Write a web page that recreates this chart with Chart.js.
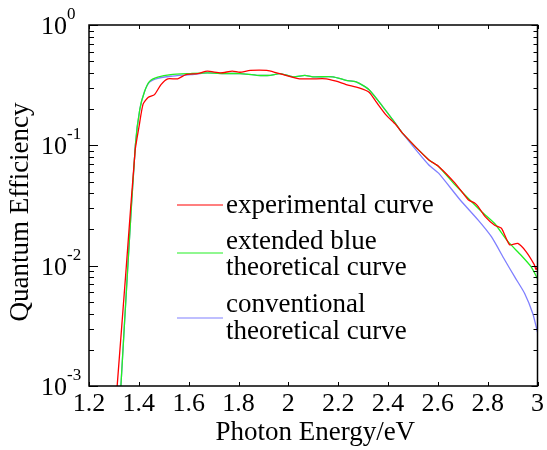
<!DOCTYPE html>
<html>
<head>
<meta charset="utf-8">
<script src="https://cdn.jsdelivr.net/npm/chart.js@4/dist/chart.umd.min.js"></script>
<style>
  html, body { margin: 0; padding: 0; background: #fff; }
  #wrap { width: 547px; height: 450px; }
</style>
</head>
<body>
<div id="wrap"><canvas id="qeChart"></canvas></div>
<script>
// Quantum efficiency vs photon energy (log y)

const redEnergy = [1.313, 1.35, 1.385, 1.40, 1.417, 1.437, 1.463, 1.489, 1.516, 1.556, 1.589, 1.636, 1.675, 1.728, 1.775, 1.806, 1.847, 1.914, 1.953, 1.993, 2.045, 2.099, 2.152, 2.192, 2.232, 2.284, 2.324, 2.351, 2.391, 2.431, 2.457, 2.563, 2.603, 2.669, 2.722, 2.749, 2.762, 2.789, 2.828, 2.855, 2.888, 2.921, 2.954, 2.987, 2.994, 3.0];
const redQE = [0.001, 0.01, 0.09, 0.14, 0.22, 0.25, 0.264, 0.32, 0.357, 0.357, 0.387, 0.395, 0.413, 0.40, 0.413, 0.405, 0.419, 0.419, 0.40, 0.38, 0.357, 0.357, 0.357, 0.341, 0.32, 0.30, 0.276, 0.232, 0.18, 0.149, 0.127, 0.076, 0.0668, 0.0485, 0.0353, 0.033, 0.031, 0.0257, 0.0217, 0.0205, 0.0149, 0.0153, 0.0131, 0.0102, 0.0093, 0.0098];

const greenEnergy = [1.328, 1.356, 1.386, 1.404, 1.423, 1.443, 1.476, 1.528, 1.608, 1.675, 1.742, 1.806, 1.874, 1.927, 1.967, 2.02, 2.066, 2.099, 2.179, 2.232, 2.272, 2.324, 2.378, 2.424, 2.457, 2.563, 2.603, 2.669, 2.775, 2.828, 2.881, 2.934, 2.974, 3.0];
const greenQE = [0.001, 0.01, 0.1, 0.2, 0.28, 0.34, 0.368, 0.387, 0.395, 0.40, 0.395, 0.395, 0.382, 0.382, 0.395, 0.371, 0.382, 0.371, 0.371, 0.347, 0.337, 0.29, 0.211, 0.158, 0.127, 0.076, 0.0668, 0.047, 0.0282, 0.0224, 0.0159, 0.0122, 0.0098, 0.0078];

const blueEnergy = [1.328, 1.356, 1.386, 1.404, 1.423, 1.443, 1.476, 1.529, 1.608, 1.675, 1.742, 1.806, 1.874, 1.927, 1.967, 2.02, 2.066, 2.099, 2.179, 2.232, 2.272, 2.324, 2.378, 2.424, 2.457, 2.563, 2.603, 2.689, 2.762, 2.815, 2.868, 2.908, 2.948, 2.981, 3.0];
const blueQE = [0.001, 0.01, 0.1, 0.2, 0.28, 0.335, 0.36, 0.375, 0.387, 0.40, 0.395, 0.395, 0.382, 0.382, 0.395, 0.371, 0.382, 0.371, 0.371, 0.347, 0.337, 0.29, 0.211, 0.158, 0.127, 0.069, 0.0587, 0.0353, 0.0239, 0.0174, 0.0112, 0.0081, 0.0059, 0.0040, 0.0028];

const xTicks = [1.2, 1.4, 1.6, 1.8, 2, 2.2, 2.4, 2.6, 2.8, 3];
const yDecades = [0.001, 0.01, 0.1, 1];
const yDecadeLabels = ['-3', '-2', '-1', '0'];

const legendLabels = [
    ['experimental curve'],
    ['extended blue', 'theoretical curve'],
    ['conventional', 'theoretical curve']
];
const seriesColors = ['#ff0000', '#22f022', 'rgba(120,120,255,0.95)'];

const SERIF = '"Liberation Serif", "Times New Roman", serif';

function toPoints(xs, ys) {
    return xs.map((x, i) => ({ x: x, y: ys[i] }));
}

const framePlugin = {
    id: 'frame',
    afterDraw(chart) {
        const ctx = chart.ctx;
        const xs = chart.scales.x;
        const ys = chart.scales.y;
        const a = chart.chartArea;
        ctx.save();

        // box
        ctx.strokeStyle = '#000';
        ctx.lineWidth = 1.5;
        ctx.strokeRect(a.left, a.top, a.right - a.left, a.bottom - a.top);

        // x ticks, inward, top and bottom
        ctx.lineWidth = 1;
        ctx.beginPath();
        xTicks.forEach(v => {
            const px = Math.round(xs.getPixelForValue(v)) + 0.5;
            ctx.moveTo(px, a.bottom); ctx.lineTo(px, a.bottom - 4);
            ctx.moveTo(px, a.top); ctx.lineTo(px, a.top + 4);
        });
        // y ticks, major + minor, left and right
        for (let d = 0; d < yDecades.length; d++) {
            const base = yDecades[d];
            const py = Math.round(ys.getPixelForValue(base)) + 0.5;
            ctx.moveTo(a.left, py); ctx.lineTo(a.left + 9, py);
            ctx.moveTo(a.right, py); ctx.lineTo(a.right - 6, py);
            if (d < yDecades.length - 1) {
                for (let m = 2; m <= 9; m++) {
                    const my = Math.round(ys.getPixelForValue(base * m)) + 0.5;
                    ctx.moveTo(a.left, my); ctx.lineTo(a.left + 5, my);
                    ctx.moveTo(a.right, my); ctx.lineTo(a.right - 4, my);
                }
            }
        }
        ctx.stroke();

        // y tick labels 10^n
        ctx.fillStyle = '#000';
        yDecades.forEach((v, i) => {
            const py = ys.getPixelForValue(v);
            ctx.font = '26px ' + SERIF;
            ctx.textAlign = 'right';
            ctx.textBaseline = 'alphabetic';
            ctx.fillText('10', 67, py + 9);
            ctx.font = '17px ' + SERIF;
            ctx.textAlign = 'left';
            ctx.fillText(yDecadeLabels[i], 67, py - 6);
        });

        // axis titles
        ctx.font = '27px ' + SERIF;
        ctx.textAlign = 'center';
        ctx.textBaseline = 'middle';
        ctx.fillText('Photon Energy/eV', (a.left + a.right) / 2 + 2, 433);
        ctx.save();
        ctx.translate(21, 212);
        ctx.rotate(-Math.PI / 2);
        ctx.fillText('Quantum Efficiency', 0, 0);
        ctx.restore();

        // legend
        const lineY = [205, 253, 318];
        const textY = [[206], [242, 268], [305, 332]];
        ctx.textAlign = 'left';
        ctx.font = '27px ' + SERIF;
        legendLabels.forEach((lines, i) => {
            ctx.strokeStyle = seriesColors[i];
            ctx.lineWidth = 1.2;
            ctx.beginPath();
            ctx.moveTo(177, lineY[i]);
            ctx.lineTo(223, lineY[i]);
            ctx.stroke();
            lines.forEach((t, j) => ctx.fillText(t, 226, textY[i][j]));
        });

        ctx.restore();
    }
};

new Chart(document.getElementById('qeChart'), {
    type: 'line',
    data: {
        datasets: [
            {
                label: 'experimental curve',
                data: toPoints(redEnergy, redQE),
                borderColor: seriesColors[0],
                borderWidth: 1.3,
                pointRadius: 0,
                tension: 0.2
            },
            {
                label: 'extended blue theoretical curve',
                data: toPoints(greenEnergy, greenQE),
                borderColor: seriesColors[1],
                borderWidth: 1.3,
                pointRadius: 0,
                tension: 0.2
            },
            {
                label: 'conventional theoretical curve',
                data: toPoints(blueEnergy, blueQE),
                borderColor: seriesColors[2],
                borderWidth: 1.3,
                pointRadius: 0,
                tension: 0.2
            }
        ]
    },
    options: {
        responsive: true,
        maintainAspectRatio: false,
        animation: false,
        events: [],
        layout: {
            padding: { top: 25, right: 4, left: 0, bottom: 0 }
        },
        plugins: {
            legend: { display: false },
            tooltip: { enabled: false },
            title: { display: false }
        },
        scales: {
            x: {
                type: 'linear',
                min: 1.2,
                max: 3,
                afterFit: function (scale) { scale.height = 64; },
                afterBuildTicks: function (scale) {
                    scale.ticks = xTicks.map(v => ({ value: v }));
                },
                grid: { display: false, drawTicks: false },
                border: { display: false },
                ticks: {
                    color: '#000',
                    font: { family: SERIF, size: 26 },
                    padding: 3,
                    maxRotation: 0,
                    autoSkip: false,
                    callback: function (value) {
                        return String(Number(value.toFixed(1)));
                    }
                }
            },
            y: {
                type: 'logarithmic',
                min: 0.001,
                max: 1,
                afterFit: function (scale) { scale.width = 89; },
                grid: { display: false, drawTicks: false },
                border: { display: false },
                ticks: { display: false }
            }
        }
    },
    plugins: [framePlugin]
});
</script>
</body>
</html>
